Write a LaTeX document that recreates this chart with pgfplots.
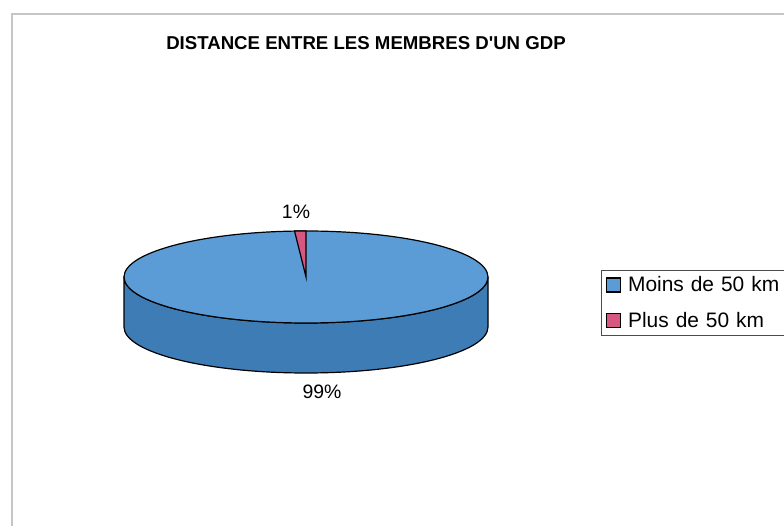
\documentclass[border=0pt]{standalone}
\usepackage{pgfplots}
\pgfplotsset{compat=1.18}
\usepackage{pgfplotstable}
\usepackage{fontspec}
\setmainfont{Liberation Sans}[Ligatures=TeXOff]
\definecolor{topblue}{RGB}{92,156,214}
\definecolor{sideblue}{RGB}{62,124,182}
\definecolor{slicered}{RGB}{214,88,128}
\pgfplotstableread{
label value
Moins 99
Plus 1
}\piedata
\begin{document}
\begin{tikzpicture}
\useasboundingbox (0,0) rectangle (784bp,526bp);
\pgfplotstablegetelem{1}{value}\of\piedata
\pgfmathsetmacro{\sliceB}{\pgfplotsretval*3.6}
\begin{axis}[at={(0,0)},anchor=south west,scale only axis,
  width=784bp,height=526bp,xmin=0,xmax=784,ymin=0,ymax=526,
  hide axis,clip=false,
  legend cell align=left,
  legend style={at={(axis cs:601,256)},anchor=north west,draw=black!70,
    font=\fontsize{21}{25}\selectfont,row sep=15bp,inner sep=4.5bp,
    /tikz/every odd column/.append style={column sep=5bp},
    /tikz/every even column/.append style={text width=165bp,align=left}},
  legend image code/.code={\draw[#1,line width=1.4pt] (2bp,-7bp) rectangle (16bp,7bp);}
]
\addlegendimage{fill=topblue,draw=black}
\addlegendentry{Moins de 50 km}
\addlegendimage{fill=slicered,draw=black}
\addlegendentry{Plus de 50 km}
% frame
\draw[gray!45,line width=1.2bp] (axis cs:12,0) -- (axis cs:12,512) -- (axis cs:790,512);
% side wall
\filldraw[fill=sideblue,draw=black,line width=1.2bp] (axis cs:124,249) -- (axis cs:124,199)
  arc[start angle=180,end angle=360,x radius=182bp,y radius=46bp] -- (axis cs:488,249)
  arc[start angle=0,end angle=-180,x radius=182bp,y radius=46bp] -- cycle;
% top face
\filldraw[fill=topblue,draw=black,line width=1.2bp] (axis cs:306,249) ellipse[x radius=182bp,y radius=46bp];
% small slice
\filldraw[fill=slicered,draw=black,line width=1.2bp] (axis cs:306,249) -- (axis cs:306,295)
  arc[start angle=90,end angle={90+\sliceB},x radius=182bp,y radius=46bp] -- cycle;
% labels
\node[font=\fontsize{19.5}{22}\selectfont] at (axis cs:296,314) {1\%};
\node[font=\fontsize{19.5}{22}\selectfont] at (axis cs:322,134) {99\%};
\node[font=\bfseries\fontsize{18.7}{21}\selectfont] at (axis cs:366,483) {DISTANCE ENTRE LES MEMBRES D'UN GDP};
\end{axis}
\end{tikzpicture}
\end{document}
